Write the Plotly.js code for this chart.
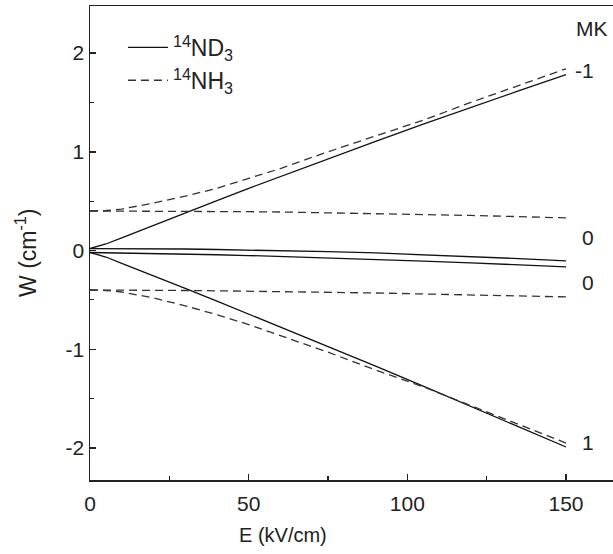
<!DOCTYPE html>
<html>
<head>
<meta charset="utf-8">
<script src="https://cdn.plot.ly/plotly-3.0.1.min.js"></script>
<style>html,body{margin:0;padding:0;background:#fff;}#chart{width:613px;height:554px;}</style>
</head>
<body>
<div id="chart"></div>
<script>
// Electric field E (kV/cm)
const fieldE = [0, 5, 10, 20, 30, 40, 50, 60, 75, 90, 105, 120, 135, 150];

// 14ND3 (solid) Stark curves W (cm^-1)
const nd3_MKm1   = [0.02, 0.066, 0.128, 0.256, 0.381, 0.506, 0.629, 0.750, 0.930, 1.106, 1.279, 1.449, 1.616, 1.78];
const nd3_MK0a   = [0.02, 0.02, 0.02, 0.018, 0.015, 0.01, 0.005, 0.0, -0.012, -0.025, -0.042, -0.06, -0.082, -0.105];
const nd3_MK0b   = [-0.02, -0.022, -0.025, -0.03, -0.035, -0.043, -0.051, -0.06, -0.075, -0.09, -0.107, -0.125, -0.145, -0.165];
const nd3_MK1    = [-0.02, -0.066, -0.13, -0.254, -0.383, -0.512, -0.643, -0.773, -0.972, -1.171, -1.373, -1.577, -1.783, -1.99];

// 14NH3 (dashed) Stark curves W (cm^-1)
const nh3_MKm1   = [0.40, 0.405, 0.42, 0.48, 0.55, 0.63, 0.73, 0.83, 1.00, 1.16, 1.32, 1.50, 1.67, 1.84];
const nh3_MK0a   = [0.40, 0.40, 0.40, 0.399, 0.398, 0.396, 0.393, 0.39, 0.383, 0.375, 0.366, 0.355, 0.343, 0.33];
const nh3_MK0b   = [-0.40, -0.40, -0.40, -0.402, -0.405, -0.408, -0.411, -0.415, -0.422, -0.43, -0.44, -0.45, -0.46, -0.47];
const nh3_MK1    = [-0.40, -0.405, -0.42, -0.48, -0.56, -0.65, -0.75, -0.86, -1.03, -1.21, -1.38, -1.57, -1.76, -1.95];

// Labels
const seriesNames = ['<sup>14</sup>ND<sub>3</sub>', '<sup>14</sup>NH<sub>3</sub>'];
const mkLabels = ['MK', '-1', '0', '0', '1'];
const xTickVals = [0, 50, 100, 150];
const xTickText = ['0', '50', '100', '150'];
const yTickVals = [-2, -1, 0, 1, 2];
const yTickText = ['-2', '-1', '0', '1', '2'];
const xTitle = 'E (kV/cm)';
const yTitle = 'W (cm<sup>-1</sup>)';

const FONT = 'Liberation Sans, Arial, Helvetica, sans-serif';
const INK = '#222';
const solid = {color: '#111', width: 1.3, dash: 'solid'};
const dashed = {color: '#333', width: 1.3, dash: '8px,5px'};

function tr(y, line, name, show) {
  return {x: fieldE, y: y, type: 'scatter', mode: 'lines', line: line,
          name: name, legendgroup: name, showlegend: show, hoverinfo: 'skip'};
}

const traces = [
  tr(nd3_MKm1, solid, seriesNames[0], true),
  tr(nh3_MKm1, dashed, seriesNames[1], true),
  tr(nd3_MK0a, solid, seriesNames[0], false),
  tr(nd3_MK0b, solid, seriesNames[0], false),
  tr(nd3_MK1, solid, seriesNames[0], false),
  tr(nh3_MK0a, dashed, seriesNames[1], false),
  tr(nh3_MK0b, dashed, seriesNames[1], false),
  tr(nh3_MK1, dashed, seriesNames[1], false)
];

const annPos = [[158.2, 2.25], [155.8, 1.82], [157, 0.127], [157, -0.32], [157, -1.94]];
const annotations = mkLabels.map((t, i) => ({
  x: annPos[i][0], y: annPos[i][1], xref: 'x', yref: 'y', text: t, showarrow: false,
  xanchor: 'center', yanchor: 'middle', font: {family: FONT, size: 21, color: INK}
}));
annotations.push({
  xref: 'paper', yref: 'paper', x: 0.369, y: -0.116, text: xTitle, showarrow: false,
  xanchor: 'center', yanchor: 'middle', font: {family: FONT, size: 20, color: INK}
});
annotations.push({
  xref: 'paper', yref: 'paper', x: -0.1224, y: 0.479, text: yTitle, showarrow: false,
  textangle: -90, xanchor: 'center', yanchor: 'middle', font: {family: FONT, size: 23, color: INK}
});

const layout = {
  width: 613, height: 554,
  margin: {l: 90, r: 0, t: 6, b: 74, pad: 0},
  paper_bgcolor: '#fff', plot_bgcolor: '#fff',
  font: {family: FONT, size: 20, color: INK},
  showlegend: true,
  legend: {x: 0.063, y: 0.958, xanchor: 'left', yanchor: 'top', bgcolor: 'rgba(0,0,0,0)',
           itemwidth: 40,
           font: {family: FONT, size: 23, color: INK}, tracegroupgap: 0},
  xaxis: {
    range: [0, 164.8], showgrid: false, zeroline: false,
    showline: true, linecolor: INK, linewidth: 1.5, mirror: true,
    ticks: 'inside', ticklen: 6, tickwidth: 1.5, tickcolor: INK,
    tickvals: xTickVals, ticktext: xTickText, ticklabelstandoff: 4,
    minor: {tickvals: [25, 75, 125], ticks: 'inside', ticklen: 4, tickwidth: 1.2, tickcolor: INK, showgrid: false},
    tickfont: {family: FONT, size: 21, color: INK}
  },
  yaxis: {
    range: [-2.324, 2.476], showgrid: false, zeroline: false,
    showline: true, linecolor: INK, linewidth: 1.5, mirror: false,
    ticks: 'inside', ticklen: 6, tickwidth: 1.5, tickcolor: INK,
    tickvals: yTickVals, ticktext: yTickText,
    minor: {tickvals: [-1.5, -0.5, 0.5, 1.5], ticks: 'inside', ticklen: 4, tickwidth: 1.2, tickcolor: INK, showgrid: false},
    tickfont: {family: FONT, size: 21, color: INK}
  },
  annotations: annotations
};

Plotly.newPlot('chart', traces, layout, {displayModeBar: false, staticPlot: true});
</script>
</body>
</html>
